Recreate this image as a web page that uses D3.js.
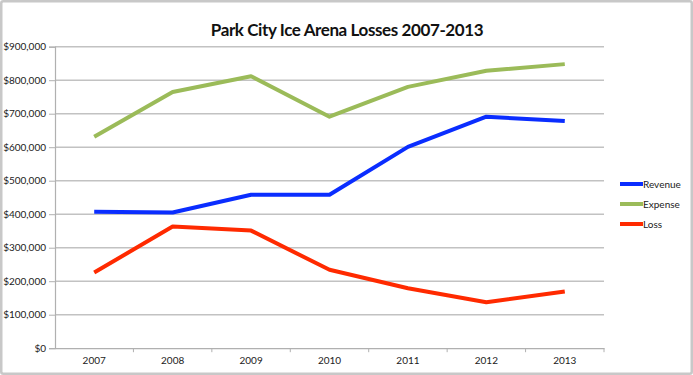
<!DOCTYPE html>
<html>
<head>
<meta charset="utf-8">
<script src="https://cdn.jsdelivr.net/npm/d3@7"></script>
<style>
  body { margin: 0; background: #fff; }
  svg text { font-family: Lato, "Open Sans", sans-serif; }
  .tick text { fill: #222; font-size: 10px; }
</style>
</head>
<body>
<div id="chart"></div>
<script>
// data
const years = ["2007", "2008", "2009", "2010", "2011", "2012", "2013"]
const revenue = [407000, 405000, 458000, 458000, 601000, 691000, 678000]
const expense = [631000, 765000, 812000, 691000, 780000, 828000, 848000]
const loss = [226000, 363000, 351000, 234000, 179000, 137000, 169000]
const seriesNames = ["Revenue", "Expense", "Loss"]
const yTicks = [0, 100000, 200000, 300000, 400000, 500000, 600000, 700000, 800000, 900000]

var width = 693,
    height = 375

const margin = {top: 46.7, right: 89, bottom: 26.8, left: 55}

const svg = d3.select("#chart")
  .append("svg")
    .attr("width", width)
    .attr("height", height)

// outer frame
svg.append("rect")
    .attr("x", 1.25).attr("y", 1.25)
    .attr("width", width - 2.5).attr("height", height - 2.5)
    .attr("rx", 2)
    .attr("fill", "#fff")
    .attr("stroke", "#c8c8c8")
    .attr("stroke-width", 2.5)

// scales
const x = d3.scaleBand()
    .domain(years)
    .range([margin.left, width - margin.right])

const y = d3.scaleLinear()
    .domain([0, 900000])
    .range([height - margin.bottom, margin.top])

const color = d3.scaleOrdinal()
    .domain(seriesNames)
    .range(["#0a2dff", "#9bbb59", "#ff2a00"])

// gridlines
svg.append("g")
  .selectAll("line")
  .data(yTicks.filter(d => d > 0))
  .join("line")
    .attr("x1", margin.left)
    .attr("x2", width - margin.right)
    .attr("y1", d => y(d))
    .attr("y2", d => y(d))
    .attr("stroke", "#c2c2c2")
    .attr("stroke-width", 1.5)

// y axis
const yAxis = svg.append("g")
    .attr("transform", `translate(${margin.left},0)`)
    .call(d3.axisLeft(y).tickValues(yTicks).tickFormat(d3.format("$,")).tickSize(6).tickPadding(3))
yAxis.select(".domain").attr("stroke", "#b0b0b0").attr("stroke-width", 1.2)
yAxis.selectAll(".tick line").attr("stroke", "#b0b0b0")

// x axis
const xAxis = svg.append("g")
    .attr("transform", `translate(0,${y(0)})`)
    .call(d3.axisBottom(x).tickSize(0).tickPadding(9))
xAxis.select(".domain").attr("stroke", "#b0b0b0").attr("stroke-width", 1.2)
xAxis.selectAll(".bound")
  .data(years)
  .join("line")
    .attr("class", "bound")
    .attr("x1", d => x(d) + x.bandwidth())
    .attr("x2", d => x(d) + x.bandwidth())
    .attr("y1", 0).attr("y2", 4)
    .attr("stroke", "#b0b0b0")

// lines
const lineData = [
  {name: "Revenue", values: revenue},
  {name: "Expense", values: expense},
  {name: "Loss", values: loss}
]

const line = d3.line()
    .x((d, i) => x(years[i]) + x.bandwidth() / 2)
    .y(d => y(d))

svg.append("g")
  .selectAll("path")
  .data(lineData)
  .join("path")
    .attr("fill", "none")
    .attr("stroke", d => color(d.name))
    .attr("stroke-width", 4)
    .attr("stroke-linejoin", "round")
    .attr("d", d => line(d.values))

// legend
const legend = svg.append("g")
    .attr("transform", "translate(620,184)")
  .selectAll("g")
  .data(seriesNames)
  .join("g")
    .attr("transform", (d, i) => `translate(0,${i * 20})`)

legend.append("line")
    .attr("x1", 0).attr("x2", 23)
    .attr("stroke", d => color(d))
    .attr("stroke-width", 4)

legend.append("text")
    .attr("x", 23)
    .attr("y", 3.5)
    .attr("font-size", 10)
    .attr("fill", "#222")
    .text(d => d)

// title
svg.append("text")
    .attr("x", 347)
    .attr("y", 35.5)
    .attr("text-anchor", "middle")
    .attr("font-size", 17)
    .attr("font-weight", "bold")
    .attr("letter-spacing", -0.4)
    .attr("fill", "#111")
    .text("Park City Ice Arena Losses 2007-2013")
</script>
</body>
</html>
